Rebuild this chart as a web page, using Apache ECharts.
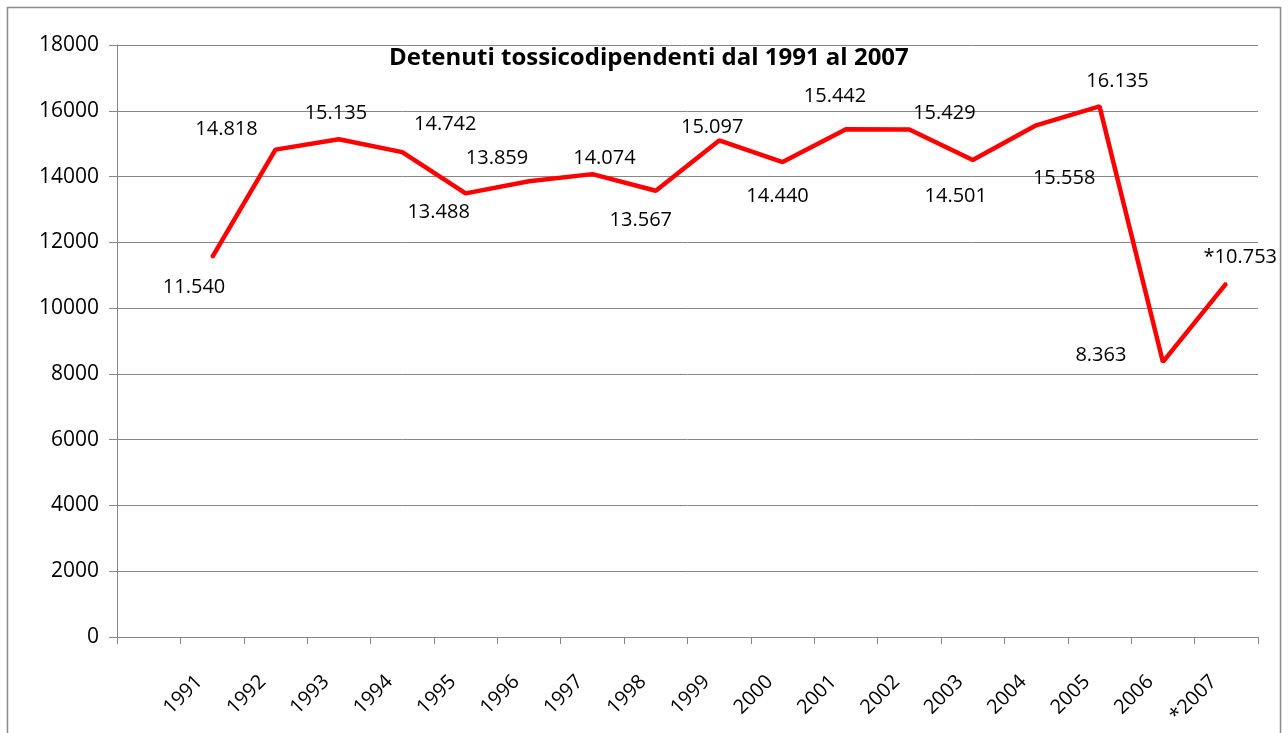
<!DOCTYPE html>
<html>
<head>
<meta charset="utf-8">
<script src="https://cdn.jsdelivr.net/npm/echarts@6/dist/echarts.min.js"></script>
<style>
  html, body { margin: 0; padding: 0; background: #fff; }
  #chart { width: 1288px; height: 733px; }
</style>
</head>
<body>
<div id="chart"></div>
<script>
// anni (il primo posto dell'asse è vuoto, come nel grafico originale)
const years = ['1991', '1992', '1993', '1994', '1995', '1996', '1997', '1998', '1999',
  '2000', '2001', '2002', '2003', '2004', '2005', '2006', '*2007']
// detenuti tossicodipendenti
const detenuti = [11540, 14818, 15135, 14742, 13488, 13859, 14074, 13567, 15097,
  14440, 15442, 15429, 14501, 15558, 16135, 8363, 10753]
// etichette dei valori
const valueLabels = ['11.540', '14.818', '15.135', '14.742', '13.488', '13.859', '14.074', '13.567', '15.097',
  '14.440', '15.442', '15.429', '14.501', '15.558', '16.135', '8.363', '*10.753']
const yTicks = [0, 2000, 4000, 6000, 8000, 10000, 12000, 14000, 16000, 18000]

// spostamento di ogni etichetta rispetto al punto
const labelOffsets = [[-18, 30], [-49, -20], [-3, -26], [43, -28], [-27, 19], [-32, -23], [12, -16], [-15, 30], [-7, -13],
  [-5, 34], [-11, -33], [35, -16], [-17, 36], [28, 53], [18, -25], [-62, -7], [14, -26]]

const font = '"Open Sans", sans-serif'

const chart = echarts.init(document.getElementById('chart'))

const option = {
  animation: false,
  title: {
    text: 'Detenuti tossicodipendenti dal 1991 al 2007',
    left: 384,
    top: 41,
    textStyle: { fontFamily: font, fontSize: 24, fontWeight: 'bold', color: '#000' }
  },
  graphic: [{
    type: 'rect',
    shape: { x: 7.5, y: 7.5, width: 1273, height: 760 },
    style: { fill: 'none', stroke: '#8c8c8c', lineWidth: 1.5 },
    silent: true
  }],
  grid: { left: 117, right: 30, top: 45, bottom: 96 },
  xAxis: {
    type: 'category',
    data: [''].concat(years),
    boundaryGap: true,
    axisLine: { lineStyle: { color: '#868686', width: 1 } },
    axisTick: { show: true, length: 7, lineStyle: { color: '#868686' } },
    axisLabel: {
      interval: 0, rotate: 45, margin: 29, padding: [0, 18, 0, 0],
      fontFamily: font, fontSize: 20, color: '#000'
    },
    splitLine: { show: false }
  },
  yAxis: {
    type: 'value',
    min: yTicks[0],
    max: yTicks[yTicks.length - 1],
    interval: 2000,
    axisLine: { show: true, lineStyle: { color: '#868686', width: 1 } },
    axisTick: { show: true, length: 8, lineStyle: { color: '#868686' } },
    axisLabel: { margin: 18, fontFamily: font, fontSize: 21, color: '#000', formatter: (v) => String(v) },
    splitLine: { lineStyle: { color: '#868686', width: 1 } }
  },
  series: [{
    type: 'line',
    data: ['-'].concat(detenuti),
    symbol: 'circle',
    symbolSize: 2,
    showSymbol: true,
    itemStyle: { color: '#ff0000' },
    lineStyle: { color: '#ff0000', width: 4.5 },
    label: {
      show: true,
      position: 'inside',
      fontFamily: font,
      fontSize: 20,
      color: '#000',
      formatter: (p) => valueLabels[p.dataIndex - 1]
    },
    labelLayout: (p) => {
      const off = labelOffsets[p.dataIndex - 1] || [0, 0]
      return { dx: off[0], dy: off[1], hideOverlap: false }
    }
  }]
}

chart.setOption(option)
</script>
</body>
</html>
